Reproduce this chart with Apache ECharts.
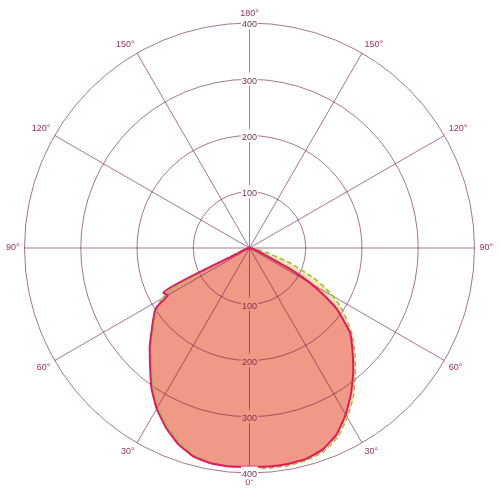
<!DOCTYPE html>
<html><head><meta charset="utf-8">
<script src="https://cdn.jsdelivr.net/npm/echarts@6/dist/echarts.min.js"></script>
<style>html,body{margin:0;padding:0;background:#fff}#c{width:500px;height:500px}</style>
</head><body><div id="c"></div>
<script>
// gamma angles (degrees from nadir)
const gamma = [0,5,10,15,20,25,30,35,40,45,50,55,57.5,60,62.5,65,70,75,80,85,90];
// intensity (cd/klm)
const redRight   = [389,390,390,388,381,366,342,315,287,259,233,190,158,125,85,40,15,8,4,2,0];
const redLeft    = [389,390,389,384,371,352,330,304,275,251,227,207,196,168,173,30,10,5,3,1,0];
const greenRight = [392,393,393,391,385,371,348,322,293,265,238,206,190,172,150,125,75,32,12,4,0];
const greenLeft  = [390,390,388,381,367,347,325,299,271,247,223,203,193,180,150,50,18,7,3,1,0];
const radiusTicks = [0,100,200,300,400];

function buildCurve(right, left){
  const pts = [];
  for (let i = gamma.length - 1; i >= 0; i--) pts.push([right[i], 360 - gamma[i]]);
  for (let i = 0; i < gamma.length; i++) pts.push([left[i], gamma[i]]);
  return pts;
}
const redData = buildCurve(redRight, redLeft);
const greenData = buildCurve(greenRight, greenLeft);

const gridColor = 'rgba(112,32,72,0.62)';
const labelColor = '#9a3560';
const fillColor = '#ef9986';
const center = ['49.9%', '49.6%'];
const R = 225;
const SM = 0.12;

const chart = echarts.init(document.getElementById('c'), null, {renderer:'canvas'});
const hiddenAngle = (idx, start) => ({polarIndex: idx, type:'value', min:0, max:360, interval:30, startAngle:start,
  show:false, axisLine:{show:false}, axisTick:{show:false}, axisLabel:{show:false}, splitLine:{show:false}});
const labelRadius = (idx, bottom) => ({
  polarIndex: idx, type:'value', min:radiusTicks[0], max:radiusTicks[radiusTicks.length-1], interval:100, z:6,
  axisLine:{show:false}, axisTick:{show:false}, splitLine:{show:false},
  axisLabel:{showMinLabel:false, margin:0, align:'center', verticalAlign:'middle',
    formatter: v => v === 0 ? '' : ((bottom && v < 400) ? '{s|' + v + '}' : '{w|' + v + '}'),
    rich:{
      w:{backgroundColor:'#fff', color:'#7d2f50', fontSize:9, fontFamily:'Liberation Sans', padding:[4,1,0,1]},
      s:{backgroundColor:fillColor, color:'#7d2f50', fontSize:9, fontFamily:'Liberation Sans', padding:[4,1,0,1]}
    }}
});

chart.setOption({
  animation:false,
  backgroundColor:'#fff',
  polar:[
    {center:center, radius:R},
    {center:center, radius:R},
    {center:center, radius:R}
  ],
  angleAxis:[
    {polarIndex:0, type:'value', min:0, max:360, interval:30, startAngle:-90, clockwise:true, z:3,
      axisLine:{show:false},
      axisTick:{show:false},
      splitLine:{lineStyle:{color:gridColor, width:1}},
      axisLabel:{margin:5, color:labelColor, fontSize:9, fontFamily:'Liberation Sans',
        formatter: v => v >= 360 ? '' : (v <= 180 ? v : 360 - v) + '°'}},
    hiddenAngle(1, 90),
    hiddenAngle(2, -90)
  ],
  radiusAxis:[
    {polarIndex:0, type:'value', min:0, max:400, interval:100, z:3,
      axisLine:{show:false}, axisTick:{show:false}, axisLabel:{show:false},
      splitLine:{lineStyle:{color:gridColor, width:1}}},
    labelRadius(1, false),
    labelRadius(2, true)
  ],
  series:[
    {type:'line', coordinateSystem:'polar', polarIndex:0, data:greenData, symbol:'none', silent:true, z:1, smooth:SM,
      lineStyle:{width:0, opacity:0}, areaStyle:{color:'#f7e6b0', opacity:1}},
    {type:'line', coordinateSystem:'polar', polarIndex:0, data:redData, symbol:'none', silent:true, z:2, smooth:SM,
      lineStyle:{width:0, opacity:0}, areaStyle:{color:fillColor, opacity:1}},
    {type:'line', coordinateSystem:'polar', polarIndex:0, data:greenData, symbol:'none', silent:true, z:4, smooth:SM,
      lineStyle:{color:'#8cc63e', width:1.6, type:[5,3]}},
    {type:'line', coordinateSystem:'polar', polarIndex:0, data:redData, symbol:'none', silent:true, z:5, smooth:SM,
      lineStyle:{color:'#e5175f', width:2}}
  ]
});
</script></body></html>
